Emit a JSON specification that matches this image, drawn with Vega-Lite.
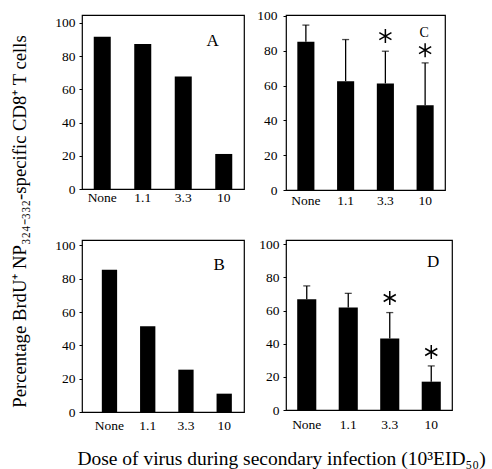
{
  "$schema": "https://vega.github.io/schema/vega-lite/v6.json",
  "padding": {"left": 9, "top": 8, "right": 5, "bottom": 5},
  "background": "white",
  "datasets": {
    "bars": [
      {"panel": "A", "dose": "None", "value": 91.7, "hi": null},
      {"panel": "A", "dose": "1.1", "value": 87.3, "hi": null},
      {"panel": "A", "dose": "3.3", "value": 67.7, "hi": null},
      {"panel": "A", "dose": "10", "value": 21.1, "hi": null},
      {"panel": "B", "dose": "None", "value": 85.4, "hi": null},
      {"panel": "B", "dose": "1.1", "value": 51.4, "hi": null},
      {"panel": "B", "dose": "3.3", "value": 25.4, "hi": null},
      {"panel": "B", "dose": "10", "value": 11.0, "hi": null},
      {"panel": "C", "dose": "None", "value": 85.1, "hi": 94.7},
      {"panel": "C", "dose": "1.1", "value": 62.5, "hi": 86.4},
      {"panel": "C", "dose": "3.3", "value": 61.2, "hi": 79.7},
      {"panel": "C", "dose": "10", "value": 48.6, "hi": 73.0},
      {"panel": "D", "dose": "None", "value": 66.8, "hi": 74.9},
      {"panel": "D", "dose": "1.1", "value": 61.8, "hi": 70.4},
      {"panel": "D", "dose": "3.3", "value": 43.1, "hi": 58.8},
      {"panel": "D", "dose": "10", "value": 17.1, "hi": 26.6}
    ],
    "stars": [
      {"panel": "C", "dose": "3.3", "y": 88.4},
      {"panel": "C", "dose": "10", "y": 80.3},
      {"panel": "D", "dose": "3.3", "y": 67.6},
      {"panel": "D", "dose": "10", "y": 35.0}
    ],
    "labels": [
      {"panel": "A", "dose": "10", "y": 89.3, "text": "A"},
      {"panel": "B", "dose": "10", "y": 88.2, "text": "B"},
      {"panel": "C", "dose": "10", "y": 90.4, "text": "C"},
      {"panel": "D", "dose": "10", "y": 89.3, "text": "D"}
    ]
  },
  "concat": [
    {
      "width": 162, "height": 174,
      "layer": [
        {
          "data": {"name": "bars"},
          "transform": [{"filter": "datum.panel == 'A'"}],
          "mark": {"type": "bar", "color": "black"},
          "encoding": {
            "x": {"field": "dose", "type": "nominal", "scale": {"domain": ["None", "1.1", "3.3", "10"], "paddingInner": 0.58}, "axis": {"title": null, "labelPadding": 1}},
            "y": {"field": "value", "type": "quantitative", "scale": {"domain": [0, 104.8], "nice": false},
              "axis": {"title": "Percentage BrdU⁺ NP₃₂₄₋₃₃₂-specific CD8⁺ T cells", "titleX": -63, "titleY": 206, "titleAngle": -90, "titleAlign": "center", "titleBaseline": "middle", "titleFontSize": 18.7}}
          }
        },
        {
          "data": {"name": "labels"},
          "transform": [{"filter": "datum.panel == 'A'"}],
          "mark": {"type": "text", "font": "Liberation Serif", "fontSize": 17, "color": "black", "baseline": "middle", "dx": -11},
          "encoding": {
            "x": {"field": "dose", "type": "nominal", "scale": {"domain": ["None", "1.1", "3.3", "10"]}},
            "y": {"field": "y", "type": "quantitative"},
            "text": {"field": "text"}
          }
        }
      ]
    },
    {
      "width": 159, "height": 175,
      "layer": [
        {
          "data": {"name": "bars"},
          "transform": [{"filter": "datum.panel == 'C'"}],
          "mark": {"type": "bar", "color": "black"},
          "encoding": {
            "x": {"field": "dose", "type": "nominal", "scale": {"domain": ["None", "1.1", "3.3", "10"], "paddingInner": 0.57}, "axis": {"title": null, "labelPadding": 3}},
            "y": {"field": "value", "type": "quantitative", "scale": {"domain": [0, 100.5], "nice": false}, "axis": {"title": null, "labelPadding": 6}}
          }
        },
        {
          "data": {"name": "bars"},
          "transform": [{"filter": "datum.panel == 'C'"}],
          "mark": {"type": "rule", "color": "black", "strokeWidth": 1.3},
          "encoding": {
            "x": {"field": "dose", "type": "nominal", "scale": {"domain": ["None", "1.1", "3.3", "10"]}},
            "y": {"field": "value", "type": "quantitative"},
            "y2": {"field": "hi"}
          }
        },
        {
          "data": {"name": "bars"},
          "transform": [{"filter": "datum.panel == 'C'"}],
          "mark": {"type": "tick", "color": "black", "size": 7, "thickness": 1.3},
          "encoding": {
            "x": {"field": "dose", "type": "nominal", "scale": {"domain": ["None", "1.1", "3.3", "10"]}},
            "y": {"field": "hi", "type": "quantitative"}
          }
        },
        {
          "data": {"name": "stars"},
          "transform": [{"filter": "datum.panel == 'C'"}],
          "mark": {"type": "point", "shape": "M0,-1L0,1M-0.866,-0.5L0.866,0.5M-0.866,0.5L0.866,-0.5", "size": 196, "filled": false, "stroke": "black", "strokeWidth": 1.5, "opacity": 1},
          "encoding": {
            "x": {"field": "dose", "type": "nominal", "scale": {"domain": ["None", "1.1", "3.3", "10"]}},
            "y": {"field": "y", "type": "quantitative"}
          }
        },
        {
          "data": {"name": "labels"},
          "transform": [{"filter": "datum.panel == 'C'"}],
          "mark": {"type": "text", "font": "Liberation Serif", "fontSize": 14, "color": "black", "baseline": "middle", "dx": -1},
          "encoding": {
            "x": {"field": "dose", "type": "nominal", "scale": {"domain": ["None", "1.1", "3.3", "10"]}},
            "y": {"field": "y", "type": "quantitative"},
            "text": {"field": "text"}
          }
        }
      ]
    },
    {
      "width": 162, "height": 172,
      "layer": [
        {
          "data": {"name": "bars"},
          "transform": [{"filter": "datum.panel == 'B'"}],
          "mark": {"type": "bar", "color": "black"},
          "encoding": {
            "x": {"field": "dose", "type": "nominal", "scale": {"domain": ["None", "1.1", "3.3", "10"], "paddingInner": 0.6, "paddingOuter": 0.418, "align": 0.62},
              "axis": {"title": "Dose of virus during secondary infection (10³EID₅₀)", "labelPadding": 6, "titleX": 199, "titleY": 46, "titleAlign": "center", "titleBaseline": "middle", "titleFontSize": 19.5}},
            "y": {"field": "value", "type": "quantitative", "scale": {"domain": [0, 103.2], "nice": false}, "axis": {"title": null}}
          }
        },
        {
          "data": {"name": "labels"},
          "transform": [{"filter": "datum.panel == 'B'"}],
          "mark": {"type": "text", "font": "Liberation Serif", "fontSize": 17, "color": "black", "baseline": "middle", "dx": -5},
          "encoding": {
            "x": {"field": "dose", "type": "nominal", "scale": {"domain": ["None", "1.1", "3.3", "10"]}},
            "y": {"field": "y", "type": "quantitative"},
            "text": {"field": "text"}
          }
        }
      ]
    },
    {
      "width": 166, "height": 170,
      "layer": [
        {
          "data": {"name": "bars"},
          "transform": [{"filter": "datum.panel == 'D'"}],
          "mark": {"type": "bar", "color": "black"},
          "encoding": {
            "x": {"field": "dose", "type": "nominal", "scale": {"domain": ["None", "1.1", "3.3", "10"], "paddingInner": 0.54}, "axis": {"title": null, "labelPadding": 7}},
            "y": {"field": "value", "type": "quantitative", "scale": {"domain": [0, 102.6], "nice": false}, "axis": {"title": null}}
          }
        },
        {
          "data": {"name": "bars"},
          "transform": [{"filter": "datum.panel == 'D'"}],
          "mark": {"type": "rule", "color": "black", "strokeWidth": 1.3},
          "encoding": {
            "x": {"field": "dose", "type": "nominal", "scale": {"domain": ["None", "1.1", "3.3", "10"]}},
            "y": {"field": "value", "type": "quantitative"},
            "y2": {"field": "hi"}
          }
        },
        {
          "data": {"name": "bars"},
          "transform": [{"filter": "datum.panel == 'D'"}],
          "mark": {"type": "tick", "color": "black", "size": 7, "thickness": 1.3},
          "encoding": {
            "x": {"field": "dose", "type": "nominal", "scale": {"domain": ["None", "1.1", "3.3", "10"]}},
            "y": {"field": "hi", "type": "quantitative"}
          }
        },
        {
          "data": {"name": "stars"},
          "transform": [{"filter": "datum.panel == 'D'"}],
          "mark": {"type": "point", "shape": "M0,-1L0,1M-0.866,-0.5L0.866,0.5M-0.866,0.5L0.866,-0.5", "size": 196, "filled": false, "stroke": "black", "strokeWidth": 1.5, "opacity": 1},
          "encoding": {
            "x": {"field": "dose", "type": "nominal", "scale": {"domain": ["None", "1.1", "3.3", "10"]}},
            "y": {"field": "y", "type": "quantitative"}
          }
        },
        {
          "data": {"name": "labels"},
          "transform": [{"filter": "datum.panel == 'D'"}],
          "mark": {"type": "text", "font": "Liberation Serif", "fontSize": 17, "color": "black", "baseline": "middle", "dx": 2},
          "encoding": {
            "x": {"field": "dose", "type": "nominal", "scale": {"domain": ["None", "1.1", "3.3", "10"]}},
            "y": {"field": "y", "type": "quantitative"},
            "text": {"field": "text"}
          }
        }
      ]
    }
  ],
  "columns": 2,
  "spacing": {"row": 50, "column": 42},
  "bounds": "flush",
  "config": {
    "view": {"stroke": "black", "strokeWidth": 1.2},
    "axis": {"labelFont": "Liberation Serif", "labelFontSize": 13.5, "labelColor": "black", "titleFont": "Liberation Serif", "titleFontWeight": "normal", "titleColor": "black", "domain": false, "grid": false, "tickColor": "black"},
    "axisY": {"values": [0, 10, 20, 30, 40, 50, 60, 70, 80, 90, 100], "labelExpr": "datum.value % 20 == 0 ? datum.label : ''", "tickSize": 3, "labelPadding": 4},
    "axisX": {"ticks": false, "labelAngle": 0}
  }
}
